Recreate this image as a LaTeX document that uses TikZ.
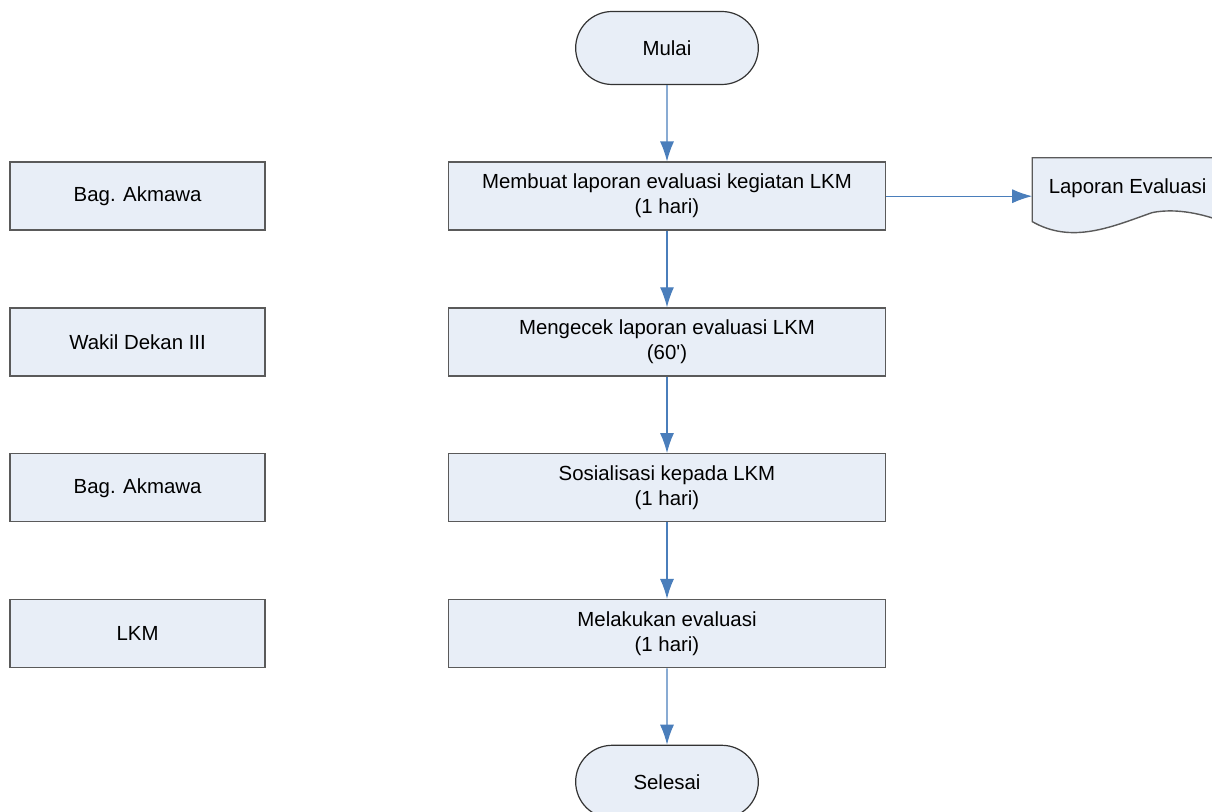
\documentclass[tikz,border=0pt]{standalone}
\usepackage{fontspec}
\setmainfont{Liberation Sans}
\newfontfamily\flowfont{Liberation Sans}
\usetikzlibrary{arrows.meta,positioning,shapes.misc,backgrounds,calc}
\definecolor{boxfill}{HTML}{E8EEF7}
\definecolor{flowblue}{HTML}{4A7EBB}
\definecolor{boxline}{HTML}{5A5A5A}

\begin{document}
\begin{tikzpicture}[
  x=0.5pt, y=-0.5pt,
  node distance=38.2pt and 91pt,
  >={Latex[length=10pt,width=7pt]},
  font=\flowfont\fontsize{10.2}{12.5}\selectfont,
  box/.style={draw=boxline, line width=0.7pt, fill=boxfill, align=center, minimum width=218.5pt, minimum height=34pt},
  actor/.style={box, minimum width=127.5pt},
  term/.style={draw=black!80, line width=0.6pt, fill=boxfill, rounded rectangle, minimum width=98pt, minimum height=36.5pt},
  doc/.style={minimum width=95pt, minimum height=38pt, inner sep=0pt},
  line/.style={->, draw=flowblue, line width=0.6pt}
]
\useasboundingbox (0,0) rectangle (1212,812);

\node[term] (mulai) at (667,48) {Mulai};
\node[box, below=of mulai] (buat) {Membuat laporan evaluasi kegiatan LKM\\(1 hari)};
\node[box, below=of buat] (cek) {Mengecek laporan evaluasi LKM\\(60')};
\node[box, below=of cek] (sosial) {Sosialisasi kepada LKM\\(1 hari)};
\node[box, below=of sosial] (evaluasi) {Melakukan evaluasi\\(1 hari)};
\node[term, below=of evaluasi] (selesai) {Selesai};

\node[actor, left=of buat] (akmawa) {Bag. Akmawa};
\node[actor, left=of cek] (wadek) {Wakil Dekan III};
\node[actor, left=of sosial] (akmawab) {Bag. Akmawa};
\node[actor, left=of evaluasi] (lkm) {LKM};

\node[doc, right=73pt of buat] (lapev) {\raisebox{10pt}{Laporan Evaluasi}};
\begin{scope}[on background layer]
  \draw[draw=boxline, line width=0.7pt, fill=boxfill]
    (lapev.north west) -- (lapev.north east) -- ([shift={(0,-13)}]lapev.south east)
    .. controls ([shift={(172,-20)}]lapev.south west) and ([shift={(145,-27)}]lapev.south west) .. ([shift={(120,-22)}]lapev.south west)
    .. controls ([shift={(80,-8)}]lapev.south west) and ([shift={(40,10)}]lapev.south west) .. ([shift={(0,-13)}]lapev.south west)
    -- cycle;
\end{scope}

\draw[line] (mulai) -- (buat);
\draw[line] (buat) -- (cek);
\draw[line] (cek) -- (sosial);
\draw[line] (sosial) -- (evaluasi);
\draw[line] (evaluasi) -- (selesai);
\draw[line] (buat) -- (lapev);

\end{tikzpicture}
\end{document}
